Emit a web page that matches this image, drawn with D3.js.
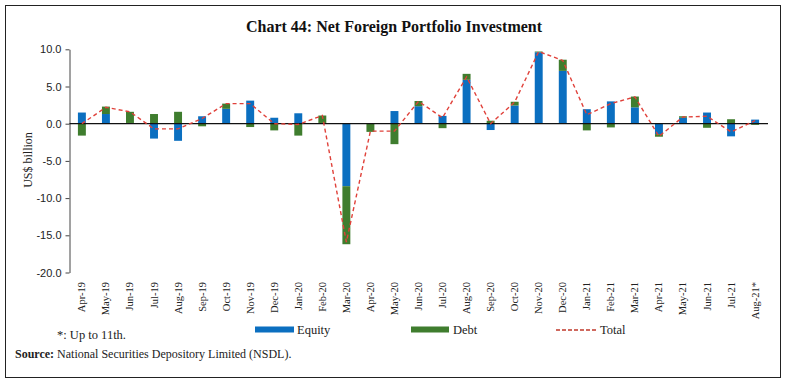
<!DOCTYPE html>
<html>
<head>
<meta charset="utf-8">
<script src="https://cdn.jsdelivr.net/npm/d3@7"></script>
<style>
  body { margin: 0; background: #fff; }
  svg { display: block; font-family: "Liberation Serif", "DejaVu Serif", serif; }
  .tick text { font-size: 11px; fill: #222; }
</style>
</head>
<body>
<svg id="chart" width="788" height="384"></svg>
<script>
// ======================
// DATA
// ======================
const months = ["Apr-19", "May-19", "Jun-19", "Jul-19", "Aug-19", "Sep-19", "Oct-19", "Nov-19",
    "Dec-19", "Jan-20", "Feb-20", "Mar-20", "Apr-20", "May-20", "Jun-20", "Jul-20", "Aug-20",
    "Sep-20", "Oct-20", "Nov-20", "Dec-20", "Jan-21", "Feb-21", "Mar-21", "Apr-21", "May-21",
    "Jun-21", "Jul-21", "Aug-21*"];

const equity = [1.5, 1.3, 0.1, -2.0, -2.3, 1.0, 2.0, 3.1, 0.8, 1.4, 0.1, -8.4, 0.0, 1.7, 2.35,
    1.05, 5.9, -0.85, 2.45, 9.6, 7.1, 1.95, 3.0, 2.2, -1.4, 0.8, 1.5, -1.7, 0.55];

const debt = [-1.6, 1.0, 1.5, 1.3, 1.6, -0.35, 0.7, -0.45, -0.9, -1.6, 1.0, -7.8, -1.1, -2.75,
    0.7, -0.6, 0.8, 0.4, 0.5, 0.1, 1.5, -0.9, -0.5, 1.45, -0.35, 0.2, -0.55, 0.6, -0.15];

const total = [0.0, 2.2, 1.6, -0.7, -0.7, 0.7, 2.7, 2.7, 0.0, -0.1, 1.1, -15.9, -1.0, -1.0,
    3.0, 0.8, 6.3, 0.0, 2.9, 9.7, 8.5, 1.2, 2.7, 3.6, -1.7, 0.9, 1.0, -1.1, 0.4];

const yTicks = [10, 5, 0, -5, -10, -15, -20];

const colors = { Equity: "#0b6fc0", Debt: "#3f7d2e", Total: "#e0413a" };

// ======================
// SETUP
// ======================
const svg = d3.select("#chart");

// outer frame
svg.append("rect")
    .attr("x", 5.5).attr("y", 5.5)
    .attr("width", 775).attr("height", 372)
    .attr("fill", "none")
    .attr("stroke", "#222")
    .attr("stroke-width", 1);

svg.append("text")
    .attr("x", 394).attr("y", 32)
    .attr("text-anchor", "middle")
    .attr("font-size", "16px")
    .attr("font-weight", "bold")
    .attr("fill", "#111")
    .text("Chart 44: Net Foreign Portfolio Investment");

const x = d3.scaleBand()
    .domain(months)
    .range([69.5, 767.5])
    .paddingInner(0.67)
    .paddingOuter(0.35);

const y = d3.scaleLinear()
    .domain([-20, 10])
    .range([272.5, 49.3]);

// y axis
const yAxisG = svg.append("g")
    .attr("transform", "translate(69.5,0)")
    .call(d3.axisLeft(y).tickValues(yTicks).tickSize(4).tickSizeOuter(0)
        .tickFormat(d => d.toFixed(1)));
yAxisG.select(".domain").attr("stroke", "#444");
yAxisG.selectAll(".tick line").attr("stroke", "#444");
yAxisG.selectAll(".tick text").attr("dx", "-1");

svg.append("text")
    .attr("transform", "translate(32,160) rotate(-90)")
    .attr("text-anchor", "middle")
    .attr("font-size", "12px")
    .attr("fill", "#222")
    .text("US$ billion");

// ======================
// BARS (stacked, diverging)
// ======================
const rows = months.map((m, i) => ({ month: m, Equity: equity[i], Debt: debt[i] }));
const series = d3.stack()
    .keys(["Equity", "Debt"])
    .offset(d3.stackOffsetDiverging)(rows);

svg.append("g")
    .selectAll("g")
    .data(series)
    .join("g")
    .attr("fill", s => colors[s.key])
    .selectAll("rect")
    .data(s => s)
    .join("rect")
    .attr("x", d => x(d.data.month))
    .attr("width", x.bandwidth())
    .attr("y", d => y(Math.max(d[0], d[1])))
    .attr("height", d => Math.abs(y(d[0]) - y(d[1])));

// zero line
svg.append("line")
    .attr("x1", 69.5).attr("x2", 768)
    .attr("y1", y(0)).attr("y2", y(0))
    .attr("stroke", "#111")
    .attr("stroke-width", 1.3);

// total line
const line = d3.line()
    .x((d, i) => x(months[i]) + x.bandwidth() / 2)
    .y(d => y(d));

svg.append("path")
    .datum(total)
    .attr("d", line)
    .attr("fill", "none")
    .attr("stroke", colors.Total)
    .attr("stroke-width", 1.4)
    .attr("stroke-dasharray", "4,3");

// x labels (rotated)
svg.append("g")
    .selectAll("text")
    .data(months)
    .join("text")
    .attr("transform", d => `translate(${x(d) + x.bandwidth() / 2 + 3.5},282) rotate(-90)`)
    .attr("text-anchor", "end")
    .attr("font-size", "10.5px")
    .attr("fill", "#222")
    .text(d => d);

// ======================
// LEGEND
// ======================
const legend = svg.append("g").attr("font-size", "12.5px").attr("fill", "#222");

legend.append("rect").attr("x", 255).attr("y", 326.5).attr("width", 39).attr("height", 6)
    .attr("fill", colors.Equity);
legend.append("text").attr("x", 297).attr("y", 334).text("Equity");

legend.append("rect").attr("x", 411).attr("y", 326.5).attr("width", 38).attr("height", 6)
    .attr("fill", colors.Debt);
legend.append("text").attr("x", 453).attr("y", 334).text("Debt");

legend.append("line").attr("x1", 556).attr("x2", 597).attr("y1", 330).attr("y2", 330)
    .attr("stroke", "#c0392b").attr("stroke-width", 1.4).attr("stroke-dasharray", "4,2");
legend.append("text").attr("x", 600).attr("y", 334).text("Total");

// footnotes
svg.append("text")
    .attr("x", 57).attr("y", 339)
    .attr("font-size", "12.5px")
    .attr("fill", "#222")
    .text("*: Up to 11th.");

const src = svg.append("text")
    .attr("x", 15).attr("y", 358)
    .attr("font-size", "12px")
    .attr("fill", "#222");
src.append("tspan").attr("font-weight", "bold").text("Source:");
src.append("tspan").text(" National Securities Depository Limited (NSDL).");
</script>
</body>
</html>
